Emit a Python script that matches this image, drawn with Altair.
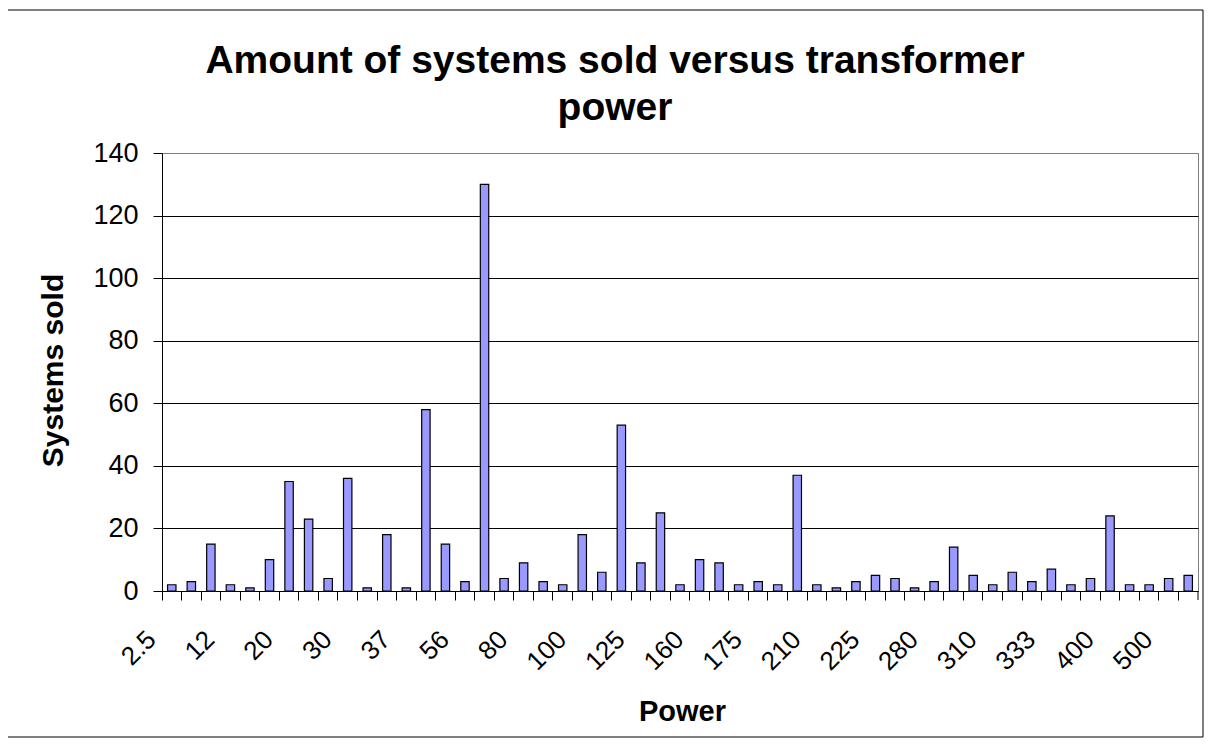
import json
import altair as alt
import pandas as pd

# Category labels (power). Only every third one is printed on the axis.
categories = [
    "2.5", "5", "10", "12", "15", "18", "20", "22", "25", "30",
    "33", "35", "37", "45", "50", "56", "63", "75", "80", "90",
    "95", "100", "110", "120", "125", "135", "150", "160", "165", "170",
    "175", "185", "200", "210", "215", "220", "225", "250", "270", "280",
    "290", "300", "310", "315", "320", "333", "350", "375", "400", "420",
    "450", "500", "600",
]
systems_sold = [
    2, 3, 15, 2, 1, 10, 35, 23, 4, 36,
    1, 18, 1, 58, 15, 3, 130, 4, 9, 3,
    2, 18, 6, 53, 9, 25, 2, 10, 9, 2,
    3, 2, 37, 2, 1, 3, 5, 4, 1, 3,
    14, 5, 2, 6, 3, 7, 2, 4, 24, 2,
    2, 4, 5,
]
shown_labels = ["2.5", "12", "20", "30", "37", "56", "80", "100", "125",
                "160", "175", "210", "225", "280", "310", "333", "400", "500"]
y_ticks = [0, 20, 40, 60, 80, 100, 120, 140]
title_lines = ["Amount of systems sold versus transformer", "power"]

FONT = "Liberation Sans"

df = pd.DataFrame({"Power": categories, "Systems sold": systems_sold})
label_expr = "indexof(" + json.dumps(shown_labels) + ", datum.value) >= 0 ? datum.label : ''"

bars = alt.Chart(df).mark_bar(
    fill="#9999FF", stroke="black", strokeWidth=1.2, width={"band": 0.43}
).encode(
    x=alt.X(
        "Power:N",
        sort=categories,
        scale=alt.Scale(paddingInner=0, paddingOuter=0),
        axis=alt.Axis(
            title="Power",
            bandPosition=0,
            labelAngle=-45,
            labelAlign="right",
            labelBaseline="middle",
            labelExpr=label_expr,
            labelOverlap=False,
            labelOffset=-20,
            labelFont=FONT,
            labelFontSize=26,
            labelColor="black",
            labelPadding=35,
            tickSize=9,
            tickColor="black",
            domainColor="black",
            grid=False,
            titleFont=FONT,
            titleFontSize=29,
            titleFontWeight="bold",
            titleColor="black",
            titleX=520,
            titleY=129,
            titleBaseline="alphabetic",
            titleAlign="center",
        ),
    ),
    y=alt.Y(
        "Systems sold:Q",
        scale=alt.Scale(domain=[0, 140], nice=False),
        axis=alt.Axis(
            title="Systems sold",
            values=y_ticks,
            tickSize=9,
            tickColor="black",
            domainColor="black",
            labelFont=FONT,
            labelFontSize=27,
            labelColor="black",
            labelPadding=15,
            grid=True,
            gridColor={"condition": {"test": "datum.value === 140", "value": "#808080"}, "value": "black"},
            gridWidth=1,
            titleFont=FONT,
            titleFontSize=30,
            titleFontWeight="bold",
            titleColor="black",
            titleAngle=-90,
            titleX=-100,
            titleY=217,
            titleBaseline="alphabetic",
            titleAlign="center",
        ),
    ),
)

end_tick = alt.Chart(pd.DataFrame({"k": [0]})).mark_rule(color="black", strokeWidth=1).encode(
    x=alt.value(1036), y=alt.value(438), y2=alt.value(447)
)

border = alt.Chart(pd.DataFrame({"k": [0]})).mark_rect(
    fill="white", fillOpacity=0, stroke="black", strokeWidth=1, clip=False
).encode(
    x=alt.value(-155), x2=alt.value(1041), y=alt.value(-143), y2=alt.value(584)
)

title_style = dict(font=FONT, fontSize=39, fontWeight="bold", color="black",
                   align="center", baseline="alphabetic", clip=False)
title1 = alt.Chart(pd.DataFrame({"k": [0]})).mark_text(**title_style).encode(
    text=alt.value(title_lines[0]), x=alt.value(453), y=alt.value(-80)
)
title2 = alt.Chart(pd.DataFrame({"k": [0]})).mark_text(**title_style).encode(
    text=alt.value(title_lines[1]), x=alt.value(453), y=alt.value(-33)
)

chart = alt.layer(border, bars, end_tick, title1, title2).properties(
    width=1036,
    height=438,
    autosize=alt.AutoSizeParams(type="none"),
    padding={"left": 154, "top": 145, "right": 6, "bottom": 147},
    background="white",
).configure_view(stroke="#808080", strokeWidth=1)

chart.save("out.html", embed_options={"renderer": "svg", "actions": False})
